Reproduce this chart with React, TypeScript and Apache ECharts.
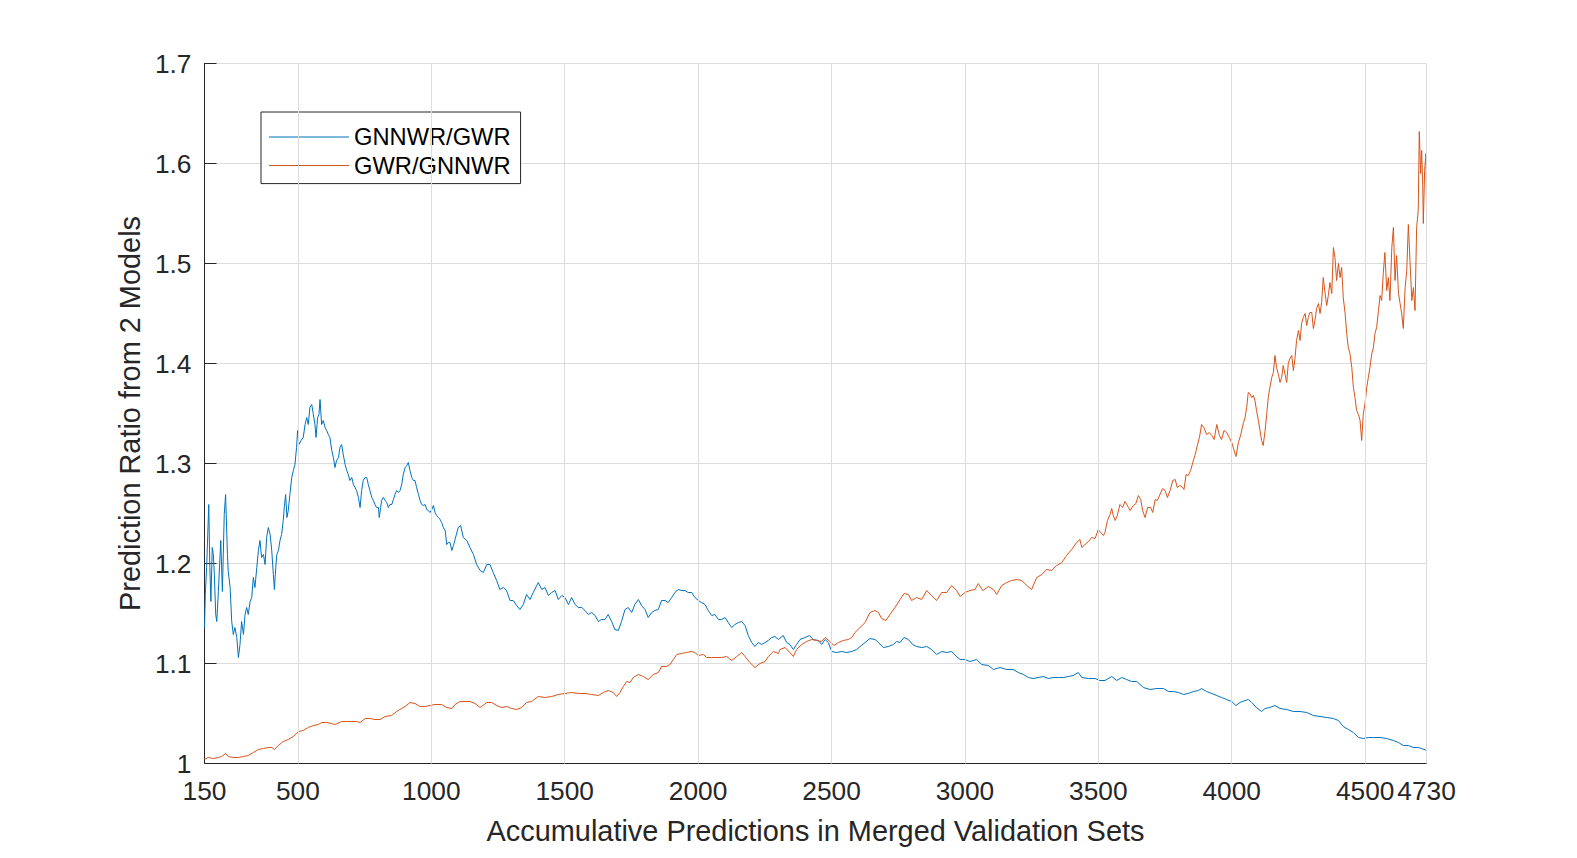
import React, { useEffect, useRef } from "react";
import * as echarts from "echarts";

const X_TICKS = [150, 500, 1000, 1500, 2000, 2500, 3000, 3500, 4000, 4500, 4730];
const X_GRID = [500, 1000, 1500, 2000, 2500, 3000, 3500, 4000, 4500, 4730];
const X_NAME = "Accumulative Predictions in Merged Validation Sets";
const Y_NAME = "Prediction Ratio from 2 Models";
const SERIES_NAMES = ["GNNWR/GWR", "GWR/GNNWR"];

const gnnwrOverGwr: [number, number][] = [
  [150,1.136],[153,1.169],[158,1.196],[166,1.259],[170,1.196],[174,1.162],[179,1.216],[183,1.209],[187,1.189],[192,1.149],[196,1.142],[202,1.172],[211,1.223],[217,1.172],[224,1.249],[229,1.269],[236,1.209],[239,1.192],[246,1.176],[252,1.142],[258,1.129],[264,1.136],[271,1.126],[277,1.106],[283,1.119],[289,1.142],[296,1.129],[302,1.149],[308,1.156],[314,1.149],[321,1.162],[327,1.166],[333,1.186],[339,1.176],[346,1.196],[352,1.213],[358,1.223],[364,1.206],[371,1.209],[377,1.199],[383,1.226],[389,1.236],[396,1.229],[402,1.213],[408,1.189],[412,1.174],[417,1.196],[421,1.209],[427,1.213],[433,1.223],[439,1.229],[445,1.243],[449,1.256],[454,1.269],[459,1.246],[464,1.253],[470,1.269],[477,1.286],[483,1.293],[489,1.299],[495,1.316],[499,1.333],[504,1.319],[512,1.323],[520,1.326],[527,1.339],[533,1.346],[539,1.339],[545,1.356],[552,1.359],[558,1.349],[564,1.339],[568,1.326],[574,1.346],[579,1.349],[583,1.364],[589,1.339],[595,1.343],[602,1.336],[608,1.333],[614,1.329],[620,1.326],[627,1.313],[633,1.306],[639,1.296],[645,1.303],[652,1.306],[658,1.316],[664,1.319],[670,1.309],[677,1.299],[683,1.293],[689,1.289],[695,1.283],[702,1.286],[708,1.279],[714,1.276],[720,1.273],[727,1.266],[733,1.256],[739,1.273],[745,1.283],[752,1.286],[758,1.286],[764,1.279],[770,1.273],[777,1.266],[783,1.263],[789,1.259],[795,1.256],[802,1.256],[805,1.246],[810,1.256],[814,1.263],[820,1.266],[827,1.263],[833,1.261],[839,1.256],[845,1.259],[852,1.259],[858,1.264],[864,1.269],[870,1.273],[877,1.271],[883,1.273],[889,1.279],[895,1.289],[902,1.296],[908,1.298],[914,1.301],[920,1.293],[927,1.286],[933,1.283],[939,1.283],[945,1.276],[952,1.269],[958,1.263],[964,1.259],[970,1.258],[977,1.259],[983,1.254],[989,1.253],[995,1.251],[1002,1.254],[1008,1.258],[1014,1.251],[1020,1.248],[1027,1.246],[1033,1.244],[1039,1.241],[1045,1.236],[1052,1.233],[1058,1.219],[1064,1.221],[1070,1.221],[1077,1.213],[1083,1.218],[1089,1.224],
  [1101,1.236],[1110,1.238],[1120,1.226],[1133,1.223],[1145,1.216],[1158,1.209],[1170,1.199],[1183,1.193],[1195,1.191],[1208,1.199],[1220,1.199],[1232,1.191],[1245,1.183],[1257,1.174],[1270,1.176],[1282,1.173],[1295,1.163],[1307,1.163],[1320,1.158],[1332,1.154],[1345,1.159],[1357,1.169],[1370,1.164],[1382,1.171],[1401,1.181],[1414,1.174],[1426,1.176],[1439,1.168],[1451,1.171],[1464,1.173],[1476,1.164],[1489,1.168],[1501,1.166],[1514,1.159],[1526,1.166],[1539,1.159],[1551,1.156],[1564,1.156],[1576,1.153],[1589,1.149],[1601,1.151],[1614,1.148],[1626,1.142],[1638,1.144],[1651,1.144],[1663,1.149],[1676,1.142],[1688,1.134],[1701,1.133],[1713,1.142],[1726,1.154],[1738,1.156],[1751,1.151],[1763,1.159],[1776,1.164],[1788,1.158],[1801,1.154],[1813,1.146],[1826,1.151],[1838,1.153],[1851,1.154],[1863,1.163],[1876,1.163],[1888,1.161],[1901,1.166],[1913,1.171],[1926,1.174],[1938,1.173],[1951,1.173],[1963,1.171],[1976,1.171],[1988,1.166],[2001,1.163],[2013,1.161],[2026,1.159],[2038,1.153],[2051,1.148],[2063,1.149],[2076,1.144],[2088,1.144],[2101,1.146],[2113,1.141],[2126,1.136],[2138,1.139],[2151,1.141],[2163,1.142],[2176,1.138],[2188,1.128],[2201,1.121],[2213,1.117],[2226,1.121],[2238,1.119],[2251,1.121],[2263,1.123],[2276,1.126],[2288,1.127],[2301,1.124],
  [2319,1.128],[2332,1.121],[2344,1.119],[2357,1.114],[2369,1.119],[2382,1.124],[2401,1.126],[2417,1.128],[2432,1.124],[2451,1.123],[2463,1.119],[2476,1.124],[2488,1.121],[2501,1.112],[2519,1.111],[2538,1.112],[2557,1.111],[2576,1.112],[2594,1.114],[2607,1.117],[2626,1.121],[2644,1.125],[2663,1.124],[2676,1.121],[2694,1.116],[2713,1.117],[2732,1.119],[2744,1.122],[2757,1.121],[2772,1.126],[2788,1.124],[2804,1.119],[2819,1.117],[2838,1.116],[2857,1.117],[2875,1.114],[2894,1.109],[2913,1.112],[2932,1.111],[2950,1.112],[2969,1.107],[2982,1.104],[3000,1.104],[3019,1.102],[3044,1.104],[3063,1.099],[3088,1.098],[3107,1.094],[3132,1.096],[3157,1.094],[3181,1.094],[3200,1.091],[3219,1.089],[3238,1.086],[3256,1.085],[3275,1.086],[3294,1.087],[3313,1.085],[3331,1.086],[3350,1.086],[3369,1.086],[3388,1.087],[3406,1.088],[3425,1.091],[3438,1.086],[3463,1.085],[3488,1.085],[3506,1.083],[3525,1.083],[3550,1.087],[3569,1.083],[3588,1.086],[3606,1.084],[3625,1.082],[3644,1.082],[3669,1.076],[3694,1.074],[3719,1.075],[3744,1.075],[3763,1.072],[3781,1.072],[3800,1.071],
  [3819,1.069],[3837,1.070],[3856,1.072],[3875,1.073],[3887,1.075],[3906,1.072],[3925,1.070],[3944,1.068],[3962,1.066],[3981,1.064],[4000,1.062],[4016,1.058],[4031,1.061],[4050,1.063],[4062,1.064],[4075,1.061],[4093,1.056],[4112,1.052],[4125,1.055],[4143,1.056],[4162,1.058],[4181,1.055],[4206,1.054],[4231,1.052],[4256,1.052],[4281,1.051],[4306,1.048],[4331,1.047],[4356,1.046],[4381,1.045],[4400,1.043],[4418,1.037],[4437,1.034],[4456,1.031],[4475,1.026],[4493,1.025],[4512,1.026],[4531,1.026],[4556,1.026],[4581,1.025],[4606,1.023],[4625,1.021],[4643,1.018],[4662,1.018],[4681,1.016],[4699,1.016],[4712,1.015],[4730,1.013],
];

const gwrOverGnnwr: [number, number][] = [
  [150,1.004],[164,1.006],[183,1.005],[202,1.006],[214,1.007],[229,1.010],[239,1.007],[258,1.006],[277,1.006],[296,1.007],[314,1.008],[333,1.011],[352,1.014],[371,1.015],[389,1.016],[402,1.016],[412,1.014],[427,1.018],[445,1.022],[464,1.024],[483,1.027],[502,1.032],[520,1.033],[539,1.036],[558,1.038],[577,1.039],[589,1.041],[608,1.041],[627,1.040],[639,1.039],[664,1.042],[683,1.042],[702,1.042],[720,1.042],[733,1.041],[752,1.045],[770,1.045],[789,1.044],[808,1.044],[827,1.047],[851,1.048],[870,1.052],[889,1.055],[902,1.057],[920,1.061],[939,1.060],[958,1.057],[977,1.057],[995,1.058],[1014,1.059],[1039,1.059],[1058,1.056],[1077,1.055],[1089,1.059],[1108,1.062],[1126,1.062],[1145,1.062],[1164,1.060],[1183,1.056],[1208,1.061],[1226,1.061],[1245,1.058],[1264,1.056],[1283,1.057],[1301,1.055],[1320,1.054],[1339,1.056],[1357,1.061],[1376,1.062],[1401,1.067],[1426,1.066],[1451,1.067],[1476,1.069],[1501,1.070],[1526,1.071],[1551,1.070],[1576,1.070],[1601,1.069],[1626,1.068],[1645,1.071],[1664,1.073],[1682,1.071],
  [1695,1.067],[1707,1.071],[1720,1.077],[1732,1.082],[1745,1.081],[1757,1.086],[1776,1.089],[1795,1.087],[1813,1.084],[1832,1.089],[1851,1.091],[1863,1.097],[1882,1.097],[1895,1.099],[1907,1.104],[1920,1.109],[1938,1.110],[1957,1.111],[1976,1.112],[1988,1.111],[2001,1.108],[2020,1.109],[2032,1.106],[2051,1.106],[2070,1.106],[2088,1.106],[2107,1.107],[2126,1.103],[2145,1.107],[2163,1.111],[2176,1.107],[2194,1.101],[2213,1.096],[2232,1.100],[2251,1.102],[2263,1.107],[2282,1.112],[2301,1.110],
  [2307,1.114],[2326,1.116],[2344,1.111],[2357,1.107],[2369,1.114],[2388,1.119],[2407,1.122],[2426,1.124],[2444,1.123],[2463,1.122],[2476,1.126],[2494,1.122],[2509,1.118],[2526,1.121],[2544,1.123],[2563,1.124],[2576,1.126],[2588,1.131],[2607,1.136],[2626,1.141],[2644,1.151],[2663,1.153],[2676,1.151],[2688,1.145],[2704,1.143],[2719,1.149],[2738,1.156],[2757,1.164],[2772,1.170],[2788,1.169],[2800,1.163],[2819,1.166],[2838,1.164],[2857,1.173],[2875,1.168],[2894,1.163],[2913,1.171],[2932,1.171],[2950,1.178],[2969,1.173],[2982,1.167],[3000,1.171],[3019,1.173],[3038,1.174],[3050,1.180],[3067,1.173],[3088,1.177],[3107,1.174],[3119,1.169],[3138,1.178],[3157,1.181],[3175,1.183],[3194,1.184],[3213,1.183],[3232,1.178],[3250,1.174],[3269,1.186],[3288,1.189],[3306,1.194],[3325,1.193],[3344,1.198],[3363,1.201],[3381,1.208],[3400,1.214],[3419,1.221],
  [3431,1.224],[3438,1.216],[3450,1.219],[3463,1.222],[3475,1.226],[3488,1.225],[3500,1.234],[3509,1.231],[3519,1.228],[3525,1.231],[3534,1.243],[3544,1.249],[3550,1.255],[3556,1.248],[3563,1.243],[3571,1.248],[3581,1.259],[3591,1.256],[3600,1.262],[3613,1.256],[3619,1.253],[3631,1.258],[3641,1.260],[3650,1.268],[3659,1.264],[3666,1.253],[3675,1.246],[3685,1.256],[3696,1.256],[3704,1.251],[3713,1.264],[3721,1.263],[3731,1.269],[3741,1.275],[3750,1.273],[3759,1.266],[3769,1.273],[3779,1.283],[3788,1.284],[3796,1.276],[3806,1.278],[3816,1.276],[3821,1.274],[3829,1.289],[3837,1.288],[3846,1.293],[3854,1.301],[3862,1.308],[3871,1.318],[3879,1.326],[3887,1.339],[3896,1.336],[3906,1.329],[3916,1.331],[3925,1.328],[3934,1.324],[3944,1.339],[3954,1.328],[3962,1.324],[3971,1.333],[3981,1.331],[3991,1.326],[4000,1.321],[4009,1.313],[4016,1.307],[4025,1.321],[4034,1.329],[4044,1.341],
  [4050,1.346],[4056,1.356],[4062,1.371],[4068,1.370],[4075,1.366],[4081,1.368],[4087,1.363],[4093,1.353],[4100,1.343],[4106,1.333],[4112,1.323],[4118,1.318],[4125,1.333],[4131,1.349],[4137,1.366],[4143,1.376],[4150,1.386],[4156,1.391],[4162,1.408],[4168,1.396],[4175,1.389],[4181,1.381],[4187,1.386],[4193,1.398],[4200,1.389],[4206,1.381],[4212,1.400],[4218,1.405],[4225,1.408],[4231,1.393],[4237,1.405],[4243,1.423],[4250,1.433],[4256,1.423],[4262,1.440],[4268,1.446],[4275,1.450],[4281,1.438],[4287,1.446],[4293,1.451],[4300,1.451],[4306,1.435],[4312,1.443],[4318,1.455],[4325,1.460],[4331,1.450],[4337,1.461],[4343,1.486],[4350,1.470],[4356,1.458],[4362,1.468],[4368,1.481],[4375,1.470],[4381,1.516],[4387,1.506],[4393,1.483],[4400,1.500],[4406,1.486],[4412,1.496],[4418,1.466],[4425,1.450],[4431,1.430],[4437,1.416],[4443,1.410],[4450,1.396],[4456,1.376],[4462,1.366],[4468,1.353],[4475,1.349],[4481,1.343],[4487,1.323],[4493,1.349],[4500,1.361],[4506,1.376],[4512,1.386],[4518,1.396],[4525,1.410],[4531,1.416],[4537,1.430],[4543,1.436],[4550,1.453],[4556,1.468],[4562,1.463],[4568,1.490],[4574,1.511],[4581,1.473],[4587,1.486],[4593,1.463],[4600,1.516],[4606,1.536],[4612,1.483],[4618,1.508],[4625,1.470],[4631,1.460],[4637,1.450],[4643,1.435],[4650,1.476],[4656,1.493],[4662,1.539],[4668,1.503],[4675,1.463],[4681,1.476],[4687,1.453],[4693,1.536],[4699,1.553],[4703,1.632],[4708,1.590],[4712,1.613],[4716,1.577],[4718,1.540],[4723,1.593],[4728,1.610],[4730,1.556],
];

const FONT = "'Liberation Sans', Arial, Helvetica, sans-serif";
const TEXT = "#262626";
const GRID_COLOR = "#dcdcdc";

export default function App() {
  const ref = useRef<HTMLDivElement>(null);
  useEffect(() => {
    if (!ref.current) return;
    const chart = echarts.init(ref.current, null, { renderer: "svg" });
    chart.setOption({
      animation: false,
      backgroundColor: "#ffffff",
      textStyle: { fontFamily: FONT },
      grid: { left: 204.5, top: 63.5, width: 1222, height: 700, containLabel: false },
      legend: {
        data: SERIES_NAMES,
        orient: "vertical",
        left: 261,
        top: 112,
        padding: [13, 10, 6, 8],
        icon: "rect",
        itemWidth: 80,
        itemHeight: 1,
        itemGap: 4.6,
        backgroundColor: "#ffffff",
        borderColor: TEXT,
        borderWidth: 1,
        borderRadius: 0,
        textStyle: { fontSize: 23.7, color: "#000000", fontFamily: FONT },
        selectedMode: false,
      },
      xAxis: {
        type: "value",
        min: 150,
        max: 4730,
        name: X_NAME,
        nameLocation: "middle",
        nameGap: 53,
        nameTextStyle: { fontSize: 28.9, color: TEXT, fontFamily: FONT },
        axisLine: { show: true, lineStyle: { color: TEXT, width: 1 } },
        axisTick: { show: true, inside: true, length: 12, customValues: X_TICKS, lineStyle: { color: TEXT, width: 1 } },
        axisLabel: {
          customValues: X_TICKS,
          showMinLabel: true,
          showMaxLabel: true,
          hideOverlap: false,
          fontSize: 26.3,
          color: TEXT,
          margin: 14,
          fontFamily: FONT,
          formatter: (v: number) => String(v),
        },
        splitLine: { show: false },
      },
      yAxis: {
        type: "value",
        min: 1,
        max: 1.7,
        interval: 0.1,
        name: Y_NAME,
        nameLocation: "middle",
        nameGap: 60,
        nameRotate: 90,
        nameTextStyle: { fontSize: 28.9, color: TEXT, fontFamily: FONT },
        axisLine: { show: true, lineStyle: { color: TEXT, width: 1 } },
        axisTick: { show: true, inside: true, length: 12, lineStyle: { color: TEXT, width: 1 } },
        axisLabel: {
          fontSize: 26.3,
          color: TEXT,
          margin: 13,
          fontFamily: FONT,
          formatter: (v: number) => String(Number(v.toFixed(1))),
        },
        splitLine: { show: true, lineStyle: { color: GRID_COLOR, width: 1 } },
      },
      series: [
        {
          type: "line",
          data: [[150, 1]],
          showSymbol: false,
          symbol: "none",
          silent: true,
          z: 1,
          lineStyle: { opacity: 0 },
          markLine: {
            silent: true,
            symbol: ["none", "none"],
            label: { show: false },
            lineStyle: { color: GRID_COLOR, width: 1, type: "solid" },
            data: X_GRID.map((v) => ({ xAxis: v })),
          },
        },
        {
          name: SERIES_NAMES[0],
          type: "line",
          data: gnnwrOverGwr,
          symbol: "none",
          showSymbol: false,
          z: 3,
          color: "#0072BD",
          lineStyle: { color: "#0072BD", width: 1 },
          emphasis: { disabled: true },
        },
        {
          name: SERIES_NAMES[1],
          type: "line",
          data: gwrOverGnnwr,
          symbol: "none",
          showSymbol: false,
          z: 4,
          color: "#D95319",
          lineStyle: { color: "#D95319", width: 1 },
          emphasis: { disabled: true },
        },
      ],
    });
    return () => chart.dispose();
  }, []);
  return (
    <div
      ref={ref}
      style={{ position: "fixed", left: 0, top: 0, width: 1577, height: 858, background: "#fff" }}
    />
  );
}
